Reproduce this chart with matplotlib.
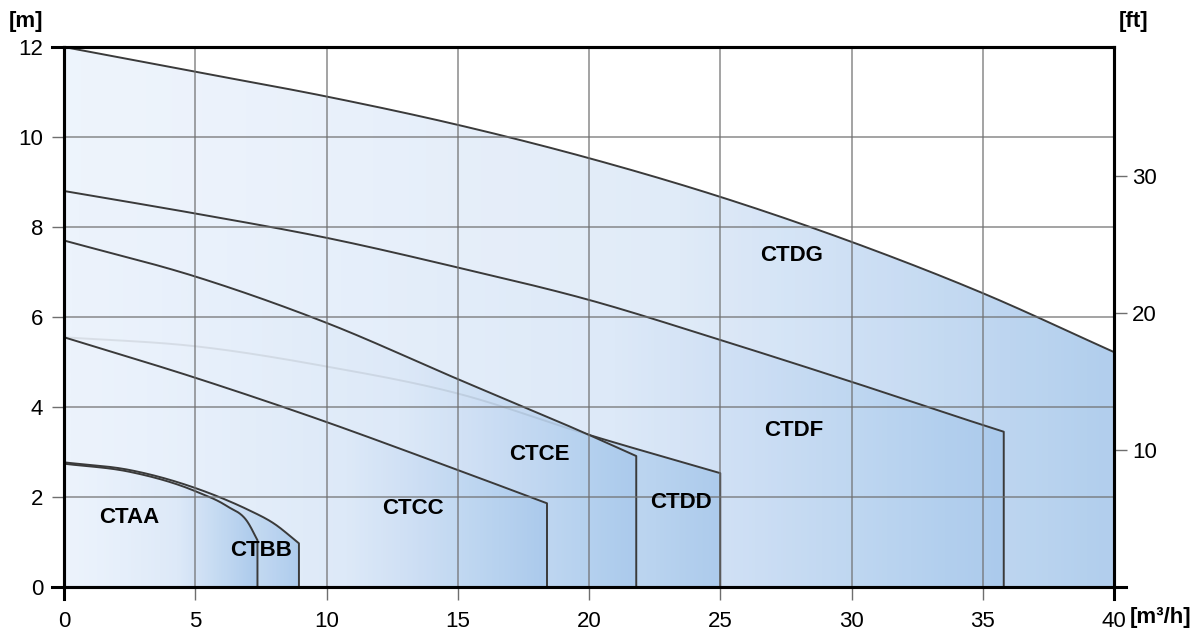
import numpy as np
import matplotlib
matplotlib.use('Agg')
from matplotlib import pyplot as plt
from matplotlib.patches import Polygon
from matplotlib.colors import LinearSegmentedColormap

plt.rcParams['font.family'] = ['Liberation Sans', 'DejaVu Sans']

# pump curves: flow [m3/h] and head [m]
ctdg_q = [0, 5, 10, 15, 20, 25, 30, 35, 40]
ctdg_h = [12.0, 11.45, 10.9, 10.27, 9.53, 8.67, 7.67, 6.53, 5.22]

ctdf_q = [0, 5, 10, 15, 20, 25, 30, 35, 35.8]
ctdf_h = [8.8, 8.3, 7.76, 7.1, 6.38, 5.49, 4.56, 3.6, 3.45]

ctdd_q = [0, 5, 10, 15, 20, 25]
ctdd_h = [5.55, 5.35, 4.9, 4.3, 3.38, 2.53]

ctce_q = [0, 5, 10, 15, 20, 21.8]
ctce_h = [7.7, 6.9, 5.87, 4.62, 3.38, 2.91]

ctcc_q = [0, 5, 9, 15, 18.4]
ctcc_h = [5.55, 4.65, 3.87, 2.6, 1.86]

ctbb_q = [0, 2.5, 5, 6.2, 7, 8, 8.95]
ctbb_h = [2.77, 2.6, 2.2, 1.93, 1.72, 1.41, 0.97]

ctaa_q = [0, 2.5, 5, 6.2, 7, 7.37]
ctaa_h = [2.74, 2.56, 2.13, 1.8, 1.44, 1.04]

# (name, flows, heads, label position)
curves = [
    ('CTDG', ctdg_q, ctdg_h, (27.7, 7.36)),
    ('CTDF', ctdf_q, ctdf_h, (27.8, 3.47)),
    ('CTDD', ctdd_q, ctdd_h, (23.5, 1.87)),
    ('CTCE', ctce_q, ctce_h, (18.1, 2.95)),
    ('CTCC', ctcc_q, ctcc_h, (13.3, 1.75)),
    ('CTBB', ctbb_q, ctbb_h, (7.5, 0.8)),
    ('CTAA', ctaa_q, ctaa_h, (2.5, 1.55)),
]

x_ticks = [0, 5, 10, 15, 20, 25, 30, 35, 40]
y_ticks = [0, 2, 4, 6, 8, 10, 12]
ft_ticks = [10, 20, 30]

M_TO_FT = 1 / 0.3048


def smooth(q, h, n=40):
    """cubic hermite curve through the read points"""
    q = np.asarray(q, float)
    h = np.asarray(h, float)
    m = np.gradient(h, q)
    xs, ys = [], []
    for i in range(len(q) - 1):
        dx = q[i + 1] - q[i]
        t = np.linspace(0, 1, n, endpoint=False)
        h00 = 2 * t**3 - 3 * t**2 + 1
        h10 = t**3 - 2 * t**2 + t
        h01 = -2 * t**3 + 3 * t**2
        h11 = t**3 - t**2
        xs.extend(q[i] + t * dx)
        ys.extend(h00 * h[i] + h10 * dx * m[i] + h01 * h[i + 1] + h11 * dx * m[i + 1])
    xs.append(q[-1])
    ys.append(h[-1])
    return np.array(xs), np.array(ys)


def main():
    fig = plt.figure(figsize=(12.02, 6.34), dpi=100)
    ax = fig.add_axes([64 / 1202, 1 - 587 / 634, 1050 / 1202, 540 / 634])

    cmap = LinearSegmentedColormap.from_list('blu', ['#ecf3fc', '#dde9f8', '#a9c9ec'])
    grad = (np.linspace(0, 1, 256) ** 1.3).reshape(1, -1)

    z = 2
    for name, q, h, (lx, ly) in curves:
        qq, hh = smooth(q, h)
        verts = list(zip(qq, hh)) + [(q[-1], 0), (0, 0)]
        poly = Polygon(verts, closed=True, facecolor='none', edgecolor='none')
        ax.add_patch(poly)
        im = ax.imshow(grad, cmap=cmap, extent=[0, q[-1], 0, 12], aspect='auto',
                       interpolation='bilinear', zorder=z, alpha=0.9)
        im.set_clip_path(poly)
        ax.plot(list(qq) + [q[-1]], list(hh) + [0],
                color='#3a3a3a', lw=1.4, zorder=z + 0.5)
        ax.text(lx, ly, name, fontsize=16, fontweight='bold', ha='center',
                va='center', zorder=30)
        z += 1

    # grid on top of the fills
    for x in x_ticks:
        ax.axvline(x, color='#6e6e6e', lw=1.1, alpha=0.8, zorder=20)
    for y in y_ticks:
        ax.axhline(y, color='#6e6e6e', lw=1.1, alpha=0.8, zorder=20)

    ax.set_xlim(0, 40)
    ax.set_ylim(0, 12)
    ax.set_xticks(x_ticks)
    ax.set_yticks(y_ticks)
    for sp in ax.spines.values():
        sp.set_linewidth(2.2)
        sp.set_zorder(40)
    ax.tick_params(axis='both', labelsize=16, width=1, length=9, color='#6e6e6e',
                   direction='out')
    ax.tick_params(axis='x', pad=8)
    ax.tick_params(axis='y', pad=6)

    # spines running a little past the corners
    ex = 12 / 1050
    ey = 12 / 540
    kw = dict(color='black', lw=2.2, transform=ax.transAxes, clip_on=False, zorder=41)
    ax.plot([0, 0], [0, -ey], **kw)
    ax.plot([-ex, 0], [0, 0], **kw)
    ax.plot([-ex, 0], [1, 1], **kw)
    ax.plot([1, 1 + ex], [0, 0], **kw)
    ax.plot([1, 1], [0, -ey], **kw)

    ax2 = ax.twinx()
    ax2.set_ylim(0, 12 * M_TO_FT)
    ax2.set_yticks(ft_ticks)
    ax2.tick_params(axis='y', labelsize=16, width=1, length=9, color='#6e6e6e',
                    direction='out', pad=4)
    for sp in ax2.spines.values():
        sp.set_linewidth(2.2)

    fig.text(26 / 1202, 1 - 21 / 634, '[m]', fontsize=16, fontweight='bold',
             ha='center', va='center')
    fig.text(1134 / 1202, 1 - 21 / 634, '[ft]', fontsize=16, fontweight='bold',
             ha='center', va='center')
    fig.text(1130 / 1202, 1 - 617 / 634, '[m³/h]', fontsize=16, fontweight='bold',
             ha='left', va='center')

    fig.savefig('out.png', dpi=100)


if __name__ == '__main__':
    main()
